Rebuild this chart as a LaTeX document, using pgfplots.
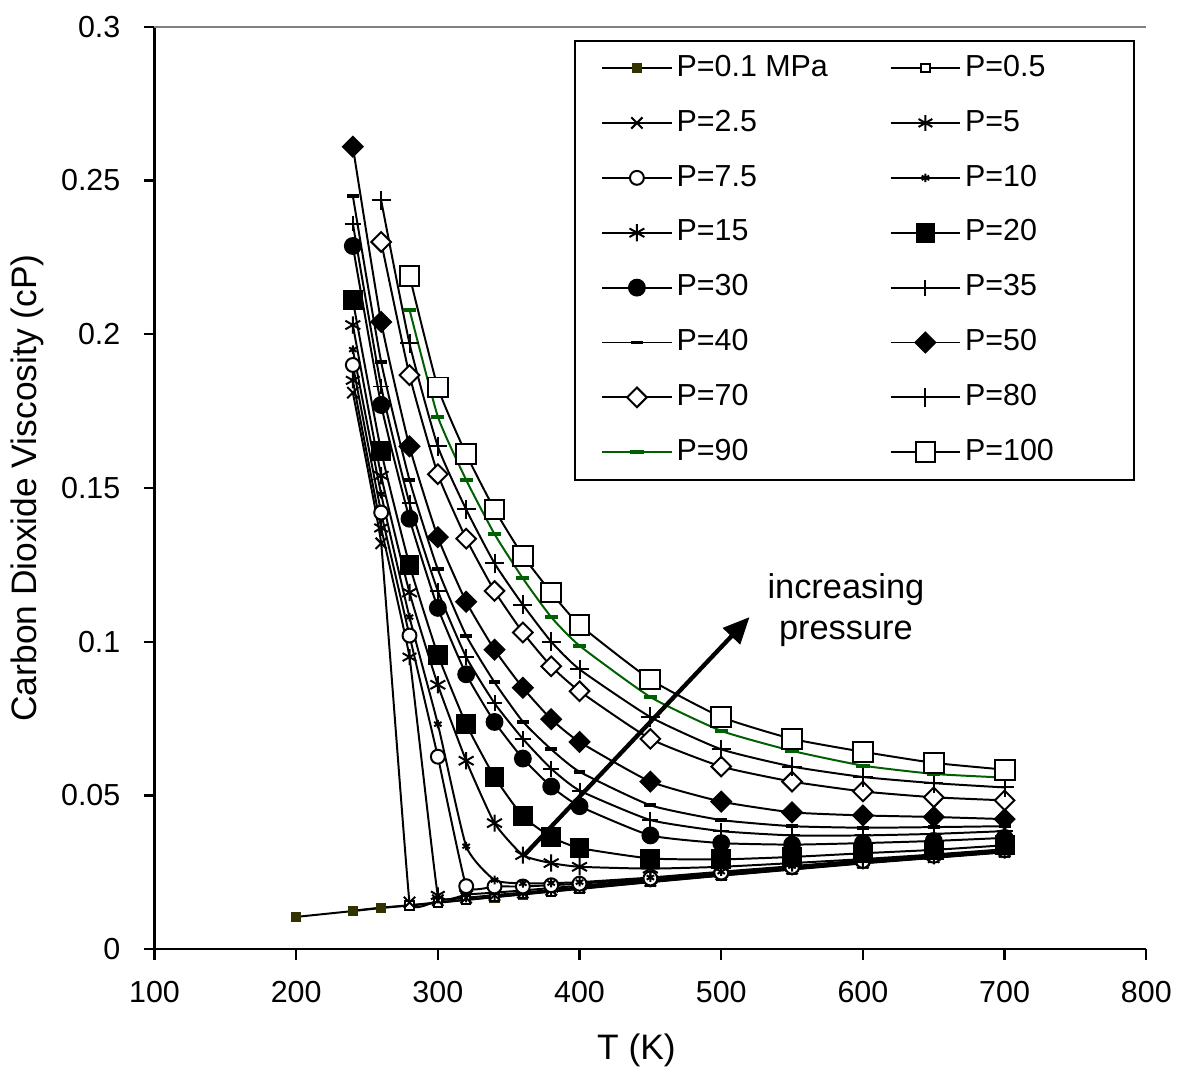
\documentclass[border={0pt 0pt 1pt 1.5pt}]{standalone}
\usepackage{pgfplots}
\pgfplotsset{compat=1.18}
\usepackage{fontspec}
\setmainfont{Liberation Sans}
\usetikzlibrary{arrows.meta}
\definecolor{olivemk}{RGB}{51,51,0}
\definecolor{darkgr}{RGB}{0,95,0}
\begin{document}
\begin{tikzpicture}
\begin{axis}[
    scale only axis,
    width=300pt, height=279pt,
    xmin=100, xmax=800, ymin=0, ymax=0.3,
    xtick={100,200,...,800},
    ytick={0,0.05,...,0.3},
    yticklabel style={/pgf/number format/fixed, /pgf/number format/precision=2},
    /pgf/number format/assume math mode=true,
    axis x line=bottom, axis y line=left,
    axis line style={-, line width=0.7pt},
    tick align=outside, major tick length=3.3pt,
    tick style={black, line width=0.7pt},
    ticklabel style={font=\fontsize{9.2}{11}\selectfont},
    xticklabel style={yshift=-3pt},
    yticklabel style={xshift=-3.5pt},
    xlabel={T (K)},
    ylabel={Carbon Dioxide Viscosity (cP)},
    xlabel style={at={(axis description cs:0.486,-0.11)}, anchor=center, font=\fontsize{10.7}{12}\selectfont},
    ylabel style={at={(axis description cs:-0.128,0.5)}, anchor=center, rotate=0, font=\fontsize{10.7}{12}\selectfont},
    every axis plot/.append style={line width=0.6pt, smooth, tension=0.3},
    legend columns=2,
    legend cell align=left,
    legend image code/.code={\draw[mark repeat=2,mark phase=2] plot coordinates {(0pt,0pt) (10.5pt,0pt) (21pt,0pt)};},
    legend style={at={(1,1)}, anchor=north east, xshift=-3.3pt, yshift=-3.9pt,
        draw=black, line width=0.6pt, font=\fontsize{9.2}{11}\selectfont,
        inner xsep=8pt, inner ysep=2.6pt, row sep=5.2pt,
        nodes={inner sep=1.2pt, text height=7pt, text depth=2pt},
        /tikz/every even column/.append style={column sep=17.5pt},
        /tikz/column 4/.style={nodes={text width=42pt}}},
]
% P=0.1
\addplot[black, mark=square*, mark size=1.3pt, mark options={fill=olivemk, draw=olivemk}] coordinates {
(200,0.0105) (240,0.0124) (260,0.0134) (280,0.0142) (300,0.0151) (320,0.0160) (340,0.0169) (360,0.0178) (380,0.0187) (400,0.0196) (450,0.0218) (500,0.0239) (550,0.0259) (600,0.0279) (650,0.0297) (700,0.0315)};
\addlegendentry{P=0.1 MPa}
% P=0.5
\addplot[black, mark=square*, mark size=1.3pt, mark options={fill=white}, mark indices={3,...,15}, forget plot] coordinates {
(240,0.0125) (260,0.0135) (280,0.0143) (300,0.0152) (320,0.0161) (340,0.0170) (360,0.0179) (380,0.0188) (400,0.0197) (450,0.0219) (500,0.0240) (550,0.0260) (600,0.0280) (650,0.0298) (700,0.0316)};
\addlegendimage{black, line width=0.6pt, mark=square*, mark size=1.3pt, mark options={fill=white}}
\addlegendentry{P=0.5}
% P=2.5
\addplot[black, mark=x, mark size=2.4pt, tension=0.12] coordinates {
(240,0.181) (260,0.132) (280,0.0152) (300,0.0159) (320,0.0167) (340,0.0176) (360,0.0184) (380,0.0193) (400,0.0201) (450,0.0222) (500,0.0243) (550,0.0262) (600,0.0281) (650,0.0299) (700,0.0317)};
\addlegendentry{P=2.5}
% P=5
\addplot[black, mark=asterisk, mark size=2.4pt, tension=0.15] coordinates {
(240,0.185) (260,0.137) (280,0.095) (300,0.0175) (320,0.0178) (340,0.0184) (360,0.0191) (380,0.0199) (400,0.0206) (450,0.0227) (500,0.0247) (550,0.0266) (600,0.0285) (650,0.0302) (700,0.0320)};
\addlegendentry{P=5}
% P=7.5
\addplot[black, mark=*, mark size=2.1pt, mark options={fill=white}, tension=0.2] coordinates {
(240,0.190) (260,0.142) (280,0.102) (300,0.0626) (320,0.0205) (340,0.0204) (360,0.0204) (380,0.0208) (400,0.0213) (450,0.0230) (500,0.0249) (550,0.0268) (600,0.0287) (650,0.0304) (700,0.0322)};
\addlegendentry{P=7.5}
% P=10
\addplot[black, mark=asterisk, mark size=1.3pt] coordinates {
(240,0.195) (260,0.148) (280,0.108) (300,0.0732) (320,0.0335) (340,0.0225) (360,0.0214) (380,0.0215) (400,0.0218) (450,0.0233) (500,0.0252) (550,0.0270) (600,0.0289) (650,0.0306) (700,0.0323)};
\addlegendentry{P=10}
% P=15
\addplot[black, mark=asterisk, mark size=2.6pt] coordinates {
(240,0.203) (260,0.154) (280,0.116) (300,0.086) (320,0.0613) (340,0.041) (360,0.0306) (380,0.028) (400,0.0268) (450,0.0262) (500,0.0268) (550,0.0280) (600,0.0293) (650,0.0308) (700,0.0325)};
\addlegendentry{P=15}
% P=20
\addplot[black, mark=square*, mark size=2.7pt] coordinates {
(240,0.211) (260,0.162) (280,0.125) (300,0.0958) (320,0.0732) (340,0.056) (360,0.0432) (380,0.0365) (400,0.0329) (450,0.0295) (500,0.0292) (550,0.0300) (600,0.0312) (650,0.0323) (700,0.0338)};
\addlegendentry{P=20}
% P=30
\addplot[black, mark=*, mark size=2.4pt] coordinates {
(240,0.2287) (260,0.177) (280,0.140) (300,0.111) (320,0.0894) (340,0.0739) (360,0.062) (380,0.0529) (400,0.0465) (450,0.037) (500,0.0345) (550,0.0340) (600,0.0345) (650,0.0352) (700,0.0362)};
\addlegendentry{P=30}
% P=35
\addplot[black, mark=+, mark size=2.4pt] coordinates {
(240,0.236) (260,0.183) (280,0.145) (300,0.1165) (320,0.095) (340,0.080) (360,0.0684) (380,0.0587) (400,0.0516) (450,0.042) (500,0.0384) (550,0.0370) (600,0.0370) (650,0.0375) (700,0.0384)};
\addlegendentry{P=35}
% P=40
\addplot[black, mark=-, mark size=1.8pt, mark options={line width=1.2pt}] coordinates {
(240,0.245) (260,0.191) (280,0.1526) (300,0.1235) (320,0.102) (340,0.0868) (360,0.074) (380,0.065) (400,0.0577) (450,0.0468) (500,0.042) (550,0.0400) (600,0.0395) (650,0.0397) (700,0.0400)};
\addlegendentry{P=40}
% P=50
\addplot[black, mark=square*, mark size=2.1pt, mark options={rotate=45}] coordinates {
(240,0.261) (260,0.204) (280,0.1635) (300,0.134) (320,0.113) (340,0.0974) (360,0.085) (380,0.0748) (400,0.0674) (450,0.0545) (500,0.048) (550,0.0445) (600,0.0435) (650,0.0430) (700,0.0423)};
\addlegendentry{P=50}
% P=70
\addplot[black, mark=square*, mark size=2.1pt, mark options={rotate=45, fill=white}] coordinates {
(260,0.230) (280,0.1867) (300,0.1545) (320,0.1335) (340,0.1165) (360,0.103) (380,0.092) (400,0.0839) (450,0.0684) (500,0.0594) (550,0.0545) (600,0.0513) (650,0.0494) (700,0.0484)};
\addlegendentry{P=70}
% P=80
\addplot[black, mark=+, mark size=2.9pt] coordinates {
(260,0.2435) (280,0.197) (300,0.1635) (320,0.143) (340,0.1255) (360,0.112) (380,0.100) (400,0.091) (450,0.0755) (500,0.065) (550,0.0594) (600,0.0560) (650,0.0540) (700,0.0526)};
\addlegendentry{P=80}
% P=90
\addplot[darkgr, mark=-, mark size=2pt, mark options={line width=1.2pt}] coordinates {
(280,0.208) (300,0.1732) (320,0.1526) (340,0.135) (360,0.1206) (380,0.108) (400,0.0987) (450,0.082) (500,0.071) (550,0.0645) (600,0.0597) (650,0.0570) (700,0.0558)};
\addlegendentry{P=90}
% P=100
\addplot[black, mark=square*, mark size=3pt, mark options={fill=white}] coordinates {
(280,0.219) (300,0.1827) (320,0.161) (340,0.143) (360,0.128) (380,0.116) (400,0.1055) (450,0.0877) (500,0.0755) (550,0.0684) (600,0.0642) (650,0.0606) (700,0.0584)};
\addlegendentry{P=100}
% annotation
\draw[-{Triangle[length=8pt,width=7pt]}, line width=1.3pt] (axis cs:361,0.0306) -- (axis cs:520,0.108);
\node[font=\fontsize{10.4}{12}\selectfont] at (axis cs:588,0.117) {increasing};
\node[font=\fontsize{10.4}{12}\selectfont] at (axis cs:588,0.1025) {pressure};
\draw[gray, line width=0.5pt] (rel axis cs:0,1) -- (rel axis cs:1,1);
\end{axis}
\end{tikzpicture}
\end{document}
